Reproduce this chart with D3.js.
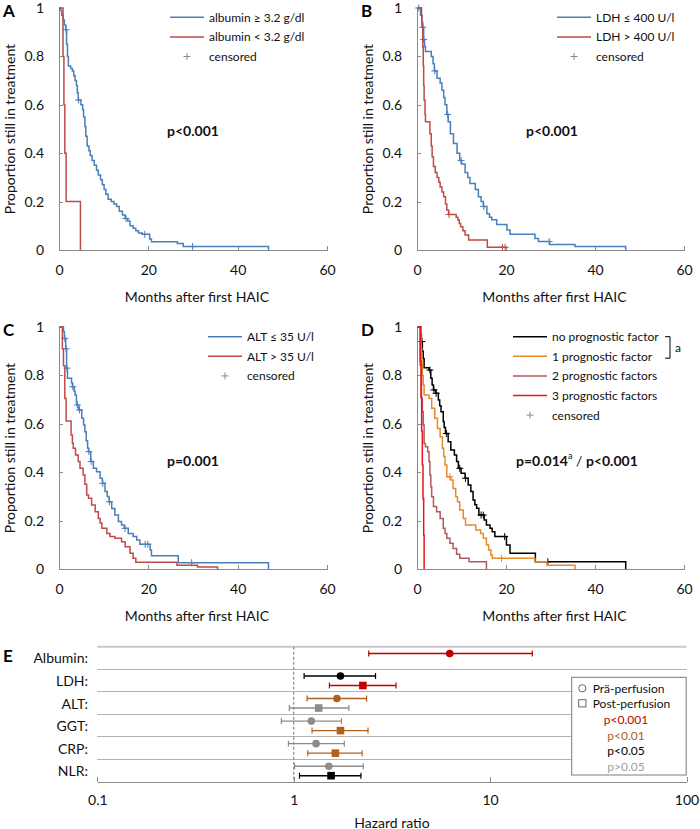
<!DOCTYPE html>
<meta charset="utf-8">
<style>
body { margin:0; background:#fff; }
text { font-family: Lato, sans-serif; fill:#111; }
.axis path, .axis line { stroke:#8a8a8a; shape-rendering:crispEdges; }
.axis text { font-family: Lato, sans-serif; font-size:14px; fill:#111; }
.lbl { font-size:14px; }
.leg { font-size:12px; }
.pval { font-size:14px; font-weight:bold; }
.panel { font-size:17px; font-weight:bold; fill:#000; }
.km { fill:none; stroke-width:1.5px; }
.cens { stroke-width:1px; }
.grid { stroke:#b4b4b4; stroke-width:1px; shape-rendering:crispEdges; }
</style>
<body>
<script src="https://cdnjs.cloudflare.com/ajax/libs/d3/7.8.5/d3.min.js"></script>
<script>

// ---- Kaplan-Meier data: [month, proportion after the drop] ----
var monthTicks = [0, 20, 40, 60];
var propTicks = [0, 0.2, 0.4, 0.6, 0.8, 1];

var albHighSteps = [[0.3,0.99],[0.6,0.97],[0.9,0.95],[1.2,0.93],[1.5,0.91],[1.7,0.85],[1.9,0.80],[2.1,0.76],[2.6,0.75],[3.0,0.74],[3.3,0.72],[3.6,0.70],[3.9,0.68],[4.1,0.65],[4.3,0.62],[4.9,0.60],[5.3,0.58],[5.5,0.55],[5.8,0.51],[6.0,0.47],[6.3,0.43],[6.7,0.41],[7.0,0.39],[7.4,0.37],[7.9,0.35],[8.4,0.33],[8.8,0.31],[9.3,0.29],[9.7,0.27],[10.1,0.25],[10.5,0.23],[11.0,0.21],[11.7,0.20],[12.3,0.19],[12.9,0.18],[13.5,0.16],[14.2,0.145],[14.8,0.13],[15.4,0.12],[15.9,0.10],[16.6,0.09],[17.2,0.08],[17.8,0.07],[18.6,0.065],[20.3,0.045],[20.7,0.034],[26.5,0.027],[27.8,0.014],[46.9,0]];
var albHighCens = [[1.6,0.91],[4.4,0.62],[15.0,0.13],[19.2,0.065],[29.9,0.014]];
var albLowSteps = [[0.9,0.8],[1.1,0.6],[1.3,0.4],[1.6,0.2],[4.8,0]];
var albLowCens = [];

var ldhLowSteps = [[0.8,0.97],[1.1,0.94],[1.3,0.92],[1.5,0.87],[1.7,0.84],[1.9,0.82],[3.2,0.80],[3.6,0.77],[3.9,0.74],[4.5,0.71],[5.2,0.69],[5.6,0.66],[6.0,0.63],[6.3,0.60],[6.7,0.56],[7.0,0.53],[7.5,0.48],[8.2,0.44],[9.0,0.40],[9.6,0.37],[10.0,0.355],[10.8,0.32],[11.4,0.30],[11.9,0.275],[13.1,0.25],[13.8,0.22],[14.4,0.20],[14.9,0.18],[15.7,0.15],[16.3,0.135],[16.8,0.125],[17.9,0.105],[20.2,0.083],[20.9,0.065],[26.5,0.048],[27.3,0.035],[29.8,0.023],[35.5,0.014],[46.9,0]];
var ldhLowCens = [[0.4,1],[1.3,0.92],[1.5,0.87],[4.0,0.74],[6.9,0.56],[9.9,0.37],[15.0,0.18],[29.7,0.035]];
var ldhHighSteps = [[1.0,0.97],[1.1,0.92],[1.3,0.84],[1.4,0.76],[1.5,0.68],[1.6,0.62],[1.8,0.56],[1.9,0.53],[2.9,0.48],[3.2,0.43],[3.4,0.385],[3.7,0.345],[4.1,0.32],[4.5,0.30],[4.9,0.28],[5.2,0.26],[5.6,0.24],[6.0,0.22],[6.4,0.19],[6.7,0.165],[7.1,0.147],[8.8,0.135],[9.2,0.124],[9.5,0.11],[9.8,0.096],[10.3,0.08],[10.8,0.062],[11.6,0.041],[15.8,0.011]];
var ldhHighCens = [[7.2,0.147],[19.2,0.011],[19.8,0.011]];

var altLowSteps = [[1.0,0.98],[1.2,0.953],[1.5,0.91],[1.7,0.83],[1.9,0.788],[2.8,0.77],[3.0,0.753],[3.4,0.735],[3.6,0.719],[3.9,0.69],[4.0,0.678],[4.4,0.657],[5.1,0.623],[5.5,0.595],[5.8,0.567],[6.1,0.53],[6.4,0.50],[6.6,0.485],[7.1,0.444],[7.7,0.416],[8.4,0.402],[9.2,0.375],[9.7,0.354],[10.3,0.32],[10.8,0.30],[11.2,0.278],[11.8,0.25],[12.5,0.223],[13.3,0.196],[14.0,0.182],[14.6,0.168],[15.5,0.147],[16.6,0.134],[17.4,0.12],[18.1,0.102],[20.4,0.079],[20.7,0.055],[26.7,0.026],[46.9,0]];
var altLowCens = [[1.3,0.953],[1.6,0.91],[1.8,0.83],[3.1,0.753],[4.1,0.678],[4.6,0.657],[6.7,0.485],[7.2,0.444],[9.8,0.354],[11.3,0.278],[14.8,0.168],[19.3,0.102],[19.9,0.102],[29.7,0.026]];
var altHighSteps = [[0.75,0.91],[1.0,0.84],[1.3,0.705],[1.6,0.612],[2.7,0.554],[3.0,0.52],[3.2,0.499],[3.7,0.471],[4.3,0.444],[4.7,0.416],[5.4,0.388],[5.8,0.35],[6.2,0.306],[6.6,0.292],[7.3,0.264],[8.1,0.237],[8.8,0.209],[9.2,0.19],[9.6,0.168],[10.7,0.147],[11.4,0.134],[12.5,0.127],[14.0,0.113],[14.8,0.092],[15.9,0.065],[16.6,0.044],[17.2,0.028],[26.4,0.016],[31.0,0.008],[35.5,0]];
var altHighCens = [];

var noneSteps = [[0.9,0.97],[1.0,0.94],[1.2,0.90],[1.4,0.87],[1.6,0.832],[2.7,0.822],[3.1,0.788],[3.4,0.76],[3.7,0.74],[4.2,0.726],[4.8,0.698],[5.1,0.675],[5.4,0.65],[5.9,0.609],[6.1,0.585],[6.4,0.56],[7.0,0.526],[7.6,0.492],[8.4,0.471],[8.9,0.444],[9.3,0.416],[9.9,0.396],[10.8,0.375],[11.5,0.347],[12.1,0.32],[12.6,0.285],[13.0,0.265],[13.4,0.251],[13.9,0.223],[15.1,0.202],[15.6,0.182],[16.4,0.168],[16.9,0.154],[17.5,0.134],[20.1,0.099],[20.9,0.065],[26.6,0.03],[46.9,0]];
var noneCens = [[1.1,0.94],[2.9,0.822],[3.8,0.74],[4.3,0.726],[6.6,0.56],[9.6,0.416],[10.9,0.375],[14.4,0.223],[14.9,0.223],[19.7,0.134],[29.4,0.03]];
var oneSteps = [[0.9,0.912],[1.05,0.86],[1.2,0.80],[1.4,0.76],[1.6,0.719],[2.7,0.705],[3.3,0.664],[4.0,0.623],[4.6,0.581],[5.2,0.547],[5.7,0.499],[6.0,0.465],[6.3,0.43],[6.7,0.381],[7.6,0.368],[8.1,0.333],[8.7,0.299],[9.1,0.278],[9.6,0.244],[10.4,0.209],[10.9,0.182],[13.2,0.161],[14.3,0.147],[14.9,0.127],[15.6,0.099],[16.1,0.079],[16.6,0.058],[16.9,0.044],[26.5,0.03],[29.2,0.015],[35.5,0]];
var oneCens = [[7.4,0.381],[19.0,0.044]];
var twoSteps = [[0.7,0.843],[1.0,0.705],[1.2,0.65],[1.4,0.595],[1.6,0.519],[1.9,0.505],[2.4,0.485],[2.7,0.444],[2.9,0.388],[3.1,0.34],[3.3,0.299],[3.7,0.258],[4.4,0.237],[5.2,0.209],[5.9,0.168],[6.3,0.147],[6.7,0.127],[7.4,0.106],[8.1,0.085],[8.9,0.061],[9.6,0.044],[11.7,0.03],[15.6,0]];
var twoCens = [];
var threeSteps = [[0.75,0.86],[0.9,0.71],[1.05,0.57],[1.2,0.43],[1.35,0.29],[1.5,0.14],[1.6,0]];
var threeCens = [];

// ---- forest plot data (hazard ratio, 95% CI) ----
var factors = ["Albumin:", "LDH:", "ALT:", "GGT:", "CRP:", "NLR:"];
var preHR   = [6.23, 1.73, 1.66, 1.23, 1.30, 1.51];
var preLow  = [2.41, 1.13, 1.17, 0.865, 0.94, 1.01];
var preHigh = [16.4, 2.61, 2.35, 1.75, 1.81, 2.26];
var preP    = ["p<0.001", "p<0.05", "p<0.01", "p>0.05", "p>0.05", "p>0.05"];
var postHR   = [null, 2.25, 1.34, 1.73, 1.63, 1.55];
var postLow  = [null, 1.52, 0.95, 1.24, 1.18, 1.07];
var postHigh = [null, 3.32, 1.91, 2.39, 2.23, 2.20];
var postP    = [null, "p<0.001", "p>0.05", "p<0.01", "p<0.01", "p<0.05"];
var hrTicks = [0.1, 1, 10, 100];
var sigLevels = ["p<0.001", "p<0.01", "p<0.05", "p>0.05"];

var blue = "#4a7ebb", red = "#be4b48", censGray = "#8a8a8a";
var sigColor = d3.scaleOrdinal().domain(sigLevels).range(["#c00000", "#b0601c", "#000000", "#8c8c8c"]);

var svg = d3.select("body").append("svg").attr("width", 700).attr("height", 829);

var panels = [
  {id:"A", xr:[59,327], yr:[250,8], p:["p<0.001"], pAt:[167,130], leg:[170,17.3],
   curves:[{steps:albHighSteps, cens:albHighCens, color:blue, name:"albumin \u2265 3.2 g/dl"},
           {steps:albLowSteps, cens:albLowCens, color:red, name:"albumin < 3.2 g/dl"}]},
  {id:"B", xr:[417,684], yr:[250,8], p:["p<0.001"], pAt:[526,130], leg:[557,17.3],
   curves:[{steps:ldhLowSteps, cens:ldhLowCens, color:blue, name:"LDH \u2264 400 U/l"},
           {steps:ldhHighSteps, cens:ldhHighCens, color:red, name:"LDH > 400 U/l"}]},
  {id:"C", xr:[59,327], yr:[569,327], p:["p=0.001"], pAt:[167,460], leg:[208,336.7],
   curves:[{steps:altLowSteps, cens:altLowCens, color:blue, name:"ALT \u2264 35 U/l"},
           {steps:altHighSteps, cens:altHighCens, color:red, name:"ALT > 35 U/l"}]},
  {id:"D", xr:[417,684], yr:[569,327], p:["p=0.014","a"," / ","p<0.001"], pAt:[516,460], leg:[513,336.7],
   curves:[{steps:noneSteps, cens:noneCens, color:"#000000", name:"no prognostic factor"},
           {steps:oneSteps, cens:oneCens, color:"#e8892c", name:"1 prognostic factor"},
           {steps:twoSteps, cens:twoCens, color:"#b3585c", name:"2 prognostic factors"},
           {steps:threeSteps, cens:threeCens, color:"#e8161b", name:"3 prognostic factors"}]}
];

function plus(sel, color){
  sel.each(function(d){
    var g = d3.select(this);
    g.append("line").attr("class","cens").attr("x1",-3.5).attr("x2",3.5).attr("stroke",color);
    g.append("line").attr("class","cens").attr("y1",-3.5).attr("y2",3.5).attr("stroke",color);
  });
}

panels.forEach(function(P){
  var x = d3.scaleLinear().domain([0,60]).range(P.xr);
  var y = d3.scaleLinear().domain([0,1]).range(P.yr);

  svg.append("g").attr("class","axis").attr("transform","translate(0,"+P.yr[0]+")")
    .call(d3.axisBottom(x).tickValues(monthTicks).tickSize(-4).tickSizeOuter(0).tickPadding(15));
  svg.append("g").attr("class","axis").attr("transform","translate("+P.xr[0]+",0)")
    .call(d3.axisLeft(y).tickValues(propTicks).tickSize(-4).tickSizeOuter(0).tickPadding(15).tickFormat(d3.format("~g")));

  svg.append("text").attr("class","lbl").attr("text-anchor","middle")
    .attr("x", (P.xr[0]+P.xr[1])/2 + 4).attr("y", P.yr[0] + 46).attr("dominant-baseline","central")
    .text("Months after first HAIC");
  svg.append("text").attr("class","lbl").attr("text-anchor","middle").attr("dominant-baseline","central")
    .attr("transform","translate("+(P.xr[0]-50)+","+((P.yr[0]+P.yr[1])/2)+") rotate(-90)")
    .text("Proportion still in treatment");
  svg.append("text").attr("class","panel").attr("x", P.xr[0]-56).attr("y", P.yr[1]+9).text(P.id);

  var line = d3.line().x(d=>x(d[0])).y(d=>y(d[1])).curve(d3.curveStepAfter);
  P.curves.forEach(function(c){
    var pts = [[0,1]].concat(c.steps);
    var last = pts[pts.length-1];
    var lastC = c.cens.length ? c.cens[c.cens.length-1] : null;
    if (lastC && lastC[0] > last[0]) pts.push([lastC[0], last[1]]);
    svg.append("path").attr("class","km").attr("stroke", c.color).attr("d", line(pts));
    svg.selectAll(null).data(c.cens).enter().append("g")
      .attr("transform", d=>"translate("+x(d[0])+","+y(d[1])+")")
      .call(plus, c.color);
  });

  // legend
  var lg = svg.append("g").attr("transform","translate("+P.leg[0]+","+P.leg[1]+")");
  var items = P.curves.concat([{name:"censored", cens:true}]);
  items.forEach(function(c, i){
    var gy = i*19.6;
    if (c.cens === true) {
      lg.append("g").attr("transform","translate(17,"+gy+")").datum(0).call(plus, censGray);
    } else {
      lg.append("line").attr("x1",0).attr("x2",34).attr("y1",gy).attr("y2",gy)
        .attr("stroke",c.color).attr("stroke-width",1.5);
    }
    lg.append("text").attr("class","leg").attr("x",39).attr("y",gy).attr("dominant-baseline","central").text(c.name);
  });
  if (P.id === "D") {
    lg.append("path").attr("d","M152,0H157V21.5H152").attr("fill","none").attr("stroke","#000").attr("stroke-width",1);
    lg.append("text").attr("class","leg").attr("x",162).attr("y",10.7).attr("dominant-baseline","central").text("a");
  }

  // p value
  var pt = svg.append("text").attr("class","pval").attr("x",P.pAt[0]).attr("y",P.pAt[1]).attr("dominant-baseline","central");
  pt.append("tspan").text(P.p[0]);
  if (P.p.length > 1) {
    pt.append("tspan").attr("font-size","9px").attr("font-weight","normal").attr("dy",-5).text(P.p[1]);
    pt.append("tspan").attr("font-weight","normal").attr("dy",5).text(P.p[2]);
    pt.append("tspan").text(P.p[3]);
  }
});

// ---- panel E: forest plot ----
var hx = d3.scaleLog().domain([0.1,100]).range([97.3,686.5]);
var band = d3.scaleBand().domain(factors).range([646.7,782]);
var bw = band.bandwidth();

svg.append("line").attr("x1",hx(0.1)).attr("x2",hx(100)).attr("y1",band.range()[0]).attr("y2",band.range()[0])
  .attr("stroke","#c8c8c8").attr("stroke-width",2);
svg.selectAll(".grid").data(factors.slice(1)).enter().append("line").attr("class","grid")
  .attr("x1",hx(0.1)).attr("x2",hx(100)).attr("y1",d=>band(d)).attr("y2",d=>band(d));
svg.append("line").attr("x1",hx(1)).attr("x2",hx(1)).attr("y1",band.range()[0]).attr("y2",band.range()[1])
  .attr("stroke","#8c8c8c").attr("stroke-dasharray","3,2").attr("stroke-width",1.2);

svg.append("g").attr("class","axis").attr("transform","translate(0,"+band.range()[1]+")")
  .call(d3.axisBottom(hx).tickValues(hrTicks).tickSize(-5).tickSizeOuter(0).tickPadding(13).tickFormat(d3.format("~g")));
svg.append("text").attr("class","lbl").attr("text-anchor","middle").attr("x",(hx(0.1)+hx(100))/2).attr("y",822)
  .attr("dominant-baseline","central").text("Hazard ratio");
svg.append("text").attr("class","panel").attr("x",3).attr("y",662).attr("font-size","19px").text("E");

svg.selectAll(".flab").data(factors).enter().append("text").attr("class","lbl")
  .attr("text-anchor","end").attr("x",88).attr("y",d=>band(d)+bw/2).attr("dominant-baseline","central").text(d=>d);

function bars(hr, lo, hi, pv, frac, shape){
  factors.forEach(function(f, i){
    if (hr[i] == null) return;
    var cy = band(f) + bw*frac, col = sigColor(pv[i]);
    var g = svg.append("g").attr("stroke",col).attr("fill",col);
    g.append("line").attr("x1",hx(lo[i])).attr("x2",hx(hi[i])).attr("y1",cy).attr("y2",cy).attr("stroke-width",1.4);
    g.append("line").attr("x1",hx(lo[i])).attr("x2",hx(lo[i])).attr("y1",cy-3).attr("y2",cy+3).attr("stroke-width",1.2);
    g.append("line").attr("x1",hx(hi[i])).attr("x2",hx(hi[i])).attr("y1",cy-3).attr("y2",cy+3).attr("stroke-width",1.2);
    if (shape === "circle") g.append("circle").attr("cx",hx(hr[i])).attr("cy",cy).attr("r",3.8).attr("stroke","none");
    else g.append("rect").attr("x",hx(hr[i])-3.8).attr("y",cy-3.8).attr("width",7.6).attr("height",7.6).attr("stroke","none");
  });
}
bars(preHR, preLow, preHigh, preP, 0.3, "circle");
bars(postHR, postLow, postHigh, postP, 0.72, "square");

// legend box
var eg = svg.append("g").attr("transform","translate(571.7,677.3)");
eg.append("rect").attr("width",114.5).attr("height",97.7).attr("fill","#fff").attr("stroke","#7a7a7a").attr("stroke-width",1);
eg.append("circle").attr("cx",10.6).attr("cy",11).attr("r",3.6).attr("fill","none").attr("stroke","#666");
eg.append("rect").attr("x",7).attr("y",22.4).attr("width",7.2).attr("height",7.2).attr("fill","none").attr("stroke","#666");
eg.append("text").attr("class","leg").attr("x",21).attr("y",11).attr("dominant-baseline","central").text("Pr\u00e4-perfusion");
eg.append("text").attr("class","leg").attr("x",21).attr("y",26).attr("dominant-baseline","central").text("Post-perfusion");
eg.selectAll(".sig").data(sigLevels).enter().append("text").attr("class","leg").attr("text-anchor","middle")
  .attr("x",54.3).attr("y",(d,i)=>42+i*15.8).attr("dominant-baseline","central")
  .style("fill",d=>d==="p>0.05" ? "#a0a0a0" : sigColor(d)).text(d=>d);
</script>
</body>
